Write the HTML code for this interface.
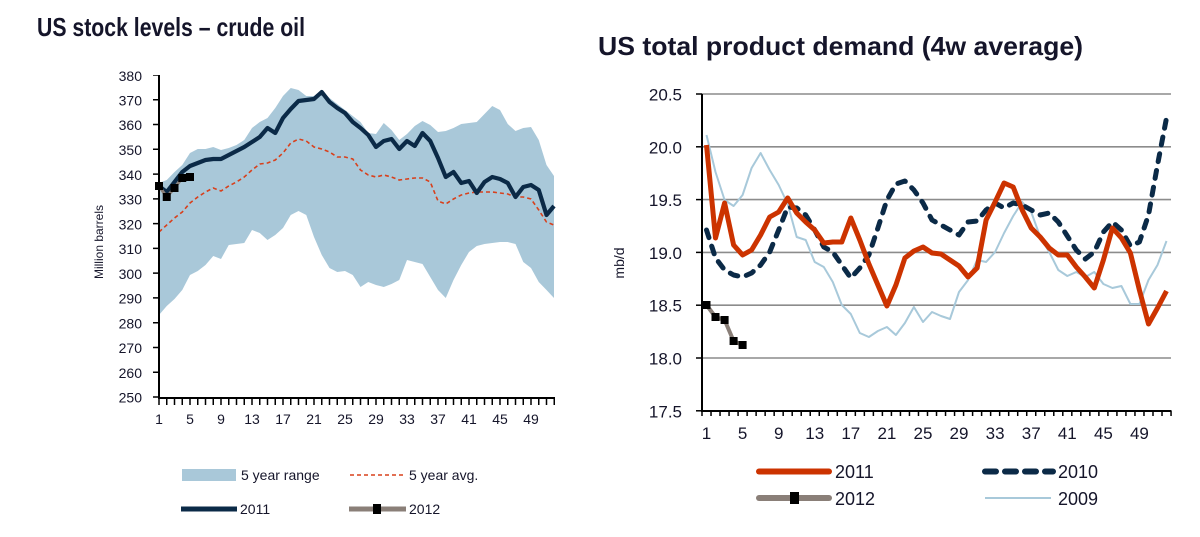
<!DOCTYPE html>
<html><head><meta charset="utf-8"><style>
html,body{margin:0;padding:0;background:#fff;}
svg{display:block;}
text{font-family:"Liberation Sans",Arial,sans-serif;fill:#15152a;}
</style></head><body>
<svg width="1200" height="537" viewBox="0 0 1200 537" xmlns="http://www.w3.org/2000/svg">
<rect width="1200" height="537" fill="#fff"/>
<!-- Titles -->
<text x="37" y="36" font-size="26" font-weight="bold" textLength="268" lengthAdjust="spacingAndGlyphs">US stock levels – crude oil</text>
<text x="598" y="55" font-size="26" font-weight="bold" textLength="485" lengthAdjust="spacingAndGlyphs">US total product demand (4w average)</text>

<!-- LEFT CHART -->
<polygon fill="#a9c8d9" points="159,183 166.75,180 174.5,172 182.25,165 190,153 197.75,149 205.5,149 213.25,147 221,150 228.75,148 236.5,145 244.25,140 252,128 259.75,122 267.5,118 275.25,108 283,96 290.75,88 298.5,90 306.25,96 314,96 321.75,90 329.5,98 337.25,104 345,110 352.75,116 360.5,122 368.25,133 376,134 383.75,123 391.5,130 399.25,140 407,134 414.75,126 422.5,121 430.25,125 438,132 445.75,131 453.5,128 461.25,124 469,123 476.75,122 484.5,114 492.25,106 500,110 507.75,124 515.5,131 523.25,128 531,127 538.75,140 546.5,165 554,176 554,298 546.5,290 538.75,282 531,268 523.25,262 515.5,244 507.75,242 500,242 492.25,243 484.5,244 476.75,246 469,252 461.25,265 453.5,280 445.75,298 438,290 430.25,277 422.5,264 414.75,262 407,260 399.25,280 391.5,284 383.75,287 376,285 368.25,282 360.5,287 352.75,275 345,271 337.25,272 329.5,268 321.75,255 314,237 306.25,215 298.5,211 290.75,215 283,228 275.25,235 267.5,240 259.75,233 252,230 244.25,243 236.5,244 228.75,245 221,259 213.25,256 205.5,265 197.75,271 190,275 182.25,290 174.5,299 166.75,306 159,315"/>
<polyline fill="none" stroke="#d8401c" stroke-width="1.6" stroke-dasharray="4 3" points="159,232 166.75,225 174.5,218 182.25,212 190,203 197.75,197 205.5,192 213.25,188 221,191 228.75,186 236.5,182 244.25,177 252,170 259.75,164 267.5,163 275.25,160 283,153 290.75,143 298.5,139 306.25,141 314,147 321.75,149 329.5,152 337.25,157 345,157 352.75,159 360.5,170 368.25,175 376,177 383.75,175 391.5,177 399.25,180 407,179 414.75,178 422.5,178 430.25,182 438,201 445.75,204 453.5,199 461.25,195 469,193 476.75,192 484.5,192 492.25,192 500,193 507.75,194 515.5,197 523.25,197 531,199 538.75,210 546.5,222 554,225"/>
<polyline fill="none" stroke="#0b2a47" stroke-width="4.2" stroke-linejoin="round" points="159,186 166.75,192 174.5,182 182.25,172 190,166 197.75,163 205.5,160 213.25,159 221,159 228.75,155 236.5,151 244.25,147 252,142 259.75,137 267.5,128 275.25,133 283,118 290.75,109 298.5,101 306.25,100 314,99 321.75,92 329.5,102 337.25,108 345,113 352.75,122 360.5,128 368.25,135 376,147 383.75,141 391.5,139 399.25,149 407,141 414.75,146 422.5,133 430.25,141 438,158 445.75,177 453.5,172 461.25,183 469,181 476.75,193 484.5,182 492.25,177 500,179 507.75,183 515.5,197 523.25,187 531,185 538.75,190 546.5,215 554,206"/>
<polyline fill="none" stroke="#8a7f78" stroke-width="3" points="159,186 166.75,197 174.5,188 182.25,178 190,177"/>
<g fill="#000">
<rect x="155" y="182" width="8" height="8"/><rect x="162.75" y="193" width="8" height="8"/><rect x="170.5" y="184" width="8" height="8"/><rect x="178.25" y="174" width="8" height="8"/><rect x="186" y="173" width="8" height="8"/>
</g>
<!-- left axes -->
<line x1="159" y1="75" x2="159" y2="398.5" stroke="#000" stroke-width="2"/>
<line x1="158" y1="398" x2="555" y2="398" stroke="#000" stroke-width="2"/>
<line x1="156" y1="75" x2="156" y2="398.5" stroke="#000" stroke-width="6" stroke-dasharray="1.5 23.27" stroke-dashoffset="0.75"/>
<line x1="158.25" y1="401.5" x2="556" y2="401.5" stroke="#000" stroke-width="7" stroke-dasharray="1.5 6.25"/>
<g font-size="14" text-anchor="end">
<text x="142" y="81">380</text><text x="142" y="105.5">370</text><text x="142" y="130.2">360</text><text x="142" y="155">350</text><text x="142" y="179.8">340</text><text x="142" y="204.5">330</text><text x="142" y="229.3">320</text><text x="142" y="254.1">310</text><text x="142" y="278.9">300</text><text x="142" y="303.6">290</text><text x="142" y="328.4">280</text><text x="142" y="353.2">270</text><text x="142" y="377.9">260</text><text x="142" y="402.7">250</text>
</g>
<g font-size="14" text-anchor="middle">
<text x="159" y="424">1</text><text x="190" y="424">5</text><text x="221" y="424">9</text><text x="252" y="424">13</text><text x="283" y="424">17</text><text x="314" y="424">21</text><text x="345" y="424">25</text><text x="376" y="424">29</text><text x="407" y="424">33</text><text x="438" y="424">37</text><text x="469" y="424">41</text><text x="500" y="424">45</text><text x="531" y="424">49</text>
</g>
<text x="0" y="0" font-size="12" text-anchor="middle" transform="translate(103,242) rotate(-90)">Million barrels</text>
<!-- left legend -->
<rect x="182" y="469" width="54" height="12" fill="#a9c8d9"/>
<text x="241" y="480" font-size="14">5 year range</text>
<line x1="350" y1="475" x2="404" y2="475" stroke="#d8401c" stroke-width="1.6" stroke-dasharray="4 3"/>
<text x="409" y="480" font-size="14">5 year avg.</text>
<line x1="181" y1="509" x2="237" y2="509" stroke="#0b2a47" stroke-width="5"/>
<text x="240" y="514" font-size="14">2011</text>
<line x1="349" y1="509" x2="406" y2="509" stroke="#8a7f78" stroke-width="5"/>
<rect x="373" y="504" width="8" height="10" fill="#000"/>
<text x="409" y="514" font-size="14">2012</text>

<!-- RIGHT CHART -->
<g stroke="#8c8c8c" stroke-width="1.6">
<line x1="702" y1="94" x2="1171" y2="94"/><line x1="702" y1="146.8" x2="1171" y2="146.8"/><line x1="702" y1="199.6" x2="1171" y2="199.6"/><line x1="702" y1="252.4" x2="1171" y2="252.4"/><line x1="702" y1="305.2" x2="1171" y2="305.2"/><line x1="702" y1="358" x2="1171" y2="358"/>
</g>
<polyline fill="none" stroke="#a8c9da" stroke-width="2" stroke-linejoin="round" points="706.5,135 715.5,172 724.6,200 733.6,206 742.6,195 751.6,168 760.6,153 769.7,170 778.7,185 787.7,204 796.7,237 805.7,240 814.7,262 823.8,267 832.8,282 841.8,305 850.8,314 859.8,333 868.9,337 877.9,331 886.9,327 895.9,335 904.9,323 913.9,307 923,322 932,312 941,316 950,319 959,292 968.1,280 977.1,260 986.1,262 995.1,252 1004.1,233 1013.2,216 1022.2,202 1031.2,212 1040.2,237 1049.2,252 1058.3,270 1067.3,276 1076.3,272 1085.3,277 1094.3,272 1103.4,284 1112.4,288 1121.4,286 1130.4,304 1139.4,304 1148.5,280 1157.5,265 1166.5,241"/>
<polyline fill="none" stroke="#0b2a47" stroke-width="5" stroke-linecap="round" stroke-linejoin="round" stroke-dasharray="8 9" points="706.5,230 715.5,258 724.6,270 733.6,275 742.6,277 751.6,273 760.6,265 769.7,252 778.7,230 787.7,207 796.7,208 805.7,215 814.7,230 823.8,247 832.8,252 841.8,265 850.8,278 859.8,268 868.9,255 877.9,228 886.9,200 895.9,184 904.9,181 913.9,190 923,203 932,220 941,225 950,230 959,235 968.1,222 977.1,221 986.1,210 995.1,203 1004.1,208 1013.2,203 1022.2,205 1031.2,210 1040.2,215 1049.2,213 1058.3,222 1067.3,236 1076.3,250 1085.3,259 1094.3,252 1103.4,232 1112.4,222 1121.4,230 1130.4,246 1139.4,242 1148.5,215 1157.5,165 1166.5,118"/>
<polyline fill="none" stroke="#cc3300" stroke-width="5" stroke-linejoin="round" points="706.5,145 715.5,238 724.6,203 733.6,245 742.6,255 751.6,250 760.6,235 769.7,217 778.7,212 787.7,198 796.7,213 805.7,222 814.7,230 823.8,243 832.8,242 841.8,242 850.8,218 859.8,240 868.9,264 877.9,285 886.9,306 895.9,285 904.9,258 913.9,251 923,247 932,253 941,254 950,260 959,266 968.1,277 977.1,268 986.1,220 995.1,202 1004.1,183 1013.2,187 1022.2,210 1031.2,228 1040.2,237 1049.2,248 1058.3,255 1067.3,255 1076.3,267 1085.3,277 1094.3,288 1103.4,260 1112.4,228 1121.4,238 1130.4,253 1139.4,290 1148.5,324 1157.5,308 1166.5,291"/>
<polyline fill="none" stroke="#8a7f78" stroke-width="4" points="706.5,305 715.5,317 724.6,320 733.6,341 742.6,345"/>
<g fill="#000">
<rect x="702.5" y="301" width="8" height="8"/><rect x="711.5" y="313" width="8" height="8"/><rect x="720.6" y="316" width="8" height="8"/><rect x="729.6" y="337" width="8" height="8"/><rect x="738.6" y="341" width="8" height="8"/>
</g>
<!-- right axes -->
<line x1="702" y1="94" x2="702" y2="412" stroke="#000" stroke-width="2"/>
<line x1="701" y1="411" x2="1171.5" y2="411" stroke="#000" stroke-width="2"/>
<g stroke="#000" stroke-width="1.5">
<line x1="696" y1="94" x2="702" y2="94"/><line x1="696" y1="146.8" x2="702" y2="146.8"/><line x1="696" y1="199.6" x2="702" y2="199.6"/><line x1="696" y1="252.4" x2="702" y2="252.4"/><line x1="696" y1="305.2" x2="702" y2="305.2"/><line x1="696" y1="358" x2="702" y2="358"/><line x1="696" y1="410.8" x2="702" y2="410.8"/>
</g>
<line x1="701.25" y1="413.5" x2="1172" y2="413.5" stroke="#000" stroke-width="5" stroke-dasharray="1.5 7.52"/>
<g font-size="17" text-anchor="end">
<text x="682" y="100.5">20.5</text><text x="682" y="153.3">20.0</text><text x="682" y="206.1">19.5</text><text x="682" y="258.9">19.0</text><text x="682" y="311.7">18.5</text><text x="682" y="364.5">18.0</text><text x="682" y="417.3">17.5</text>
</g>
<g font-size="17" text-anchor="middle">
<text x="706.5" y="439">1</text><text x="742.6" y="439">5</text><text x="778.7" y="439">9</text><text x="814.7" y="439">13</text><text x="850.8" y="439">17</text><text x="886.9" y="439">21</text><text x="923" y="439">25</text><text x="959" y="439">29</text><text x="995.1" y="439">33</text><text x="1031.2" y="439">37</text><text x="1067.3" y="439">41</text><text x="1103.4" y="439">45</text><text x="1139.4" y="439">49</text>
</g>
<text x="0" y="0" font-size="14" text-anchor="middle" transform="translate(624,263) rotate(-90)">mb/d</text>
<!-- right legend -->
<line x1="759" y1="471.5" x2="829" y2="471.5" stroke="#cc3300" stroke-width="6" stroke-linecap="round"/>
<text x="835" y="478" font-size="18">2011</text>
<line x1="759" y1="498" x2="829" y2="498" stroke="#8a7f78" stroke-width="6" stroke-linecap="round"/>
<rect x="790" y="492" width="9" height="12" fill="#000"/>
<text x="835" y="505" font-size="18">2012</text>
<line x1="985" y1="471.5" x2="1053" y2="471.5" stroke="#0b2a47" stroke-width="6" stroke-linecap="round" stroke-dasharray="11 9"/>
<text x="1058" y="478" font-size="18">2010</text>
<line x1="985" y1="498" x2="1051" y2="498" stroke="#a8c9da" stroke-width="2"/>
<text x="1058" y="505" font-size="18">2009</text>
</svg>
</body></html>
